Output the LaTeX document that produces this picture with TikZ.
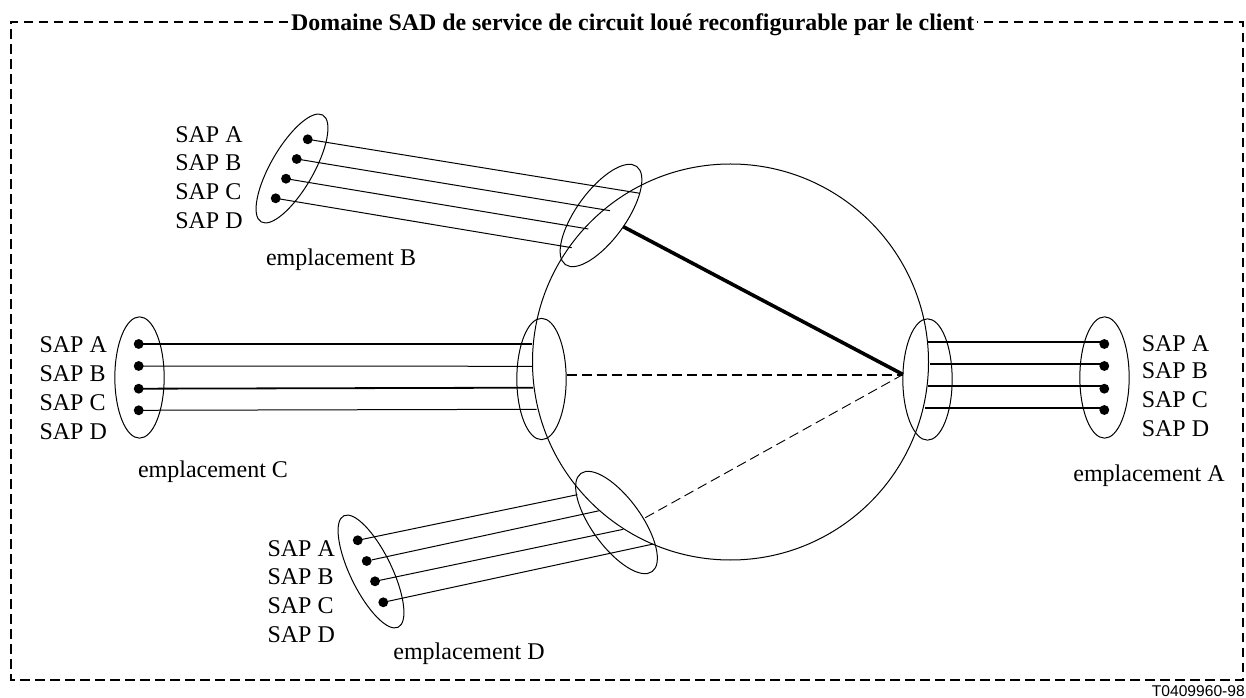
\documentclass[tikz,border=0pt]{standalone}
\usepackage{fontspec}
\setmainfont{Liberation Serif}
\newfontfamily\arialfont{Liberation Sans}
\usetikzlibrary{calc,shapes.geometric}
\tikzset{
  x=0.75pt,y=-0.75pt,
  txt/.style={inner sep=0pt,anchor=base,yshift=-0.9pt,font=\fontsize{18}{20}\selectfont},
  sap/.style={txt,anchor=base west,align=left},
  ell/.style={draw,ellipse,inner sep=0pt,minimum width=37pt,minimum height=91pt,line width=0.75pt},
  dot/.style={circle,fill=black,inner sep=0pt,minimum size=7.4pt},
  thinl/.style={line width=0.75pt},
  thickl/.style={line width=1.35pt},
  framedash/.style={line width=1.45pt,dash pattern=on 7pt off 4.25pt},
}
\begin{document}
\begin{tikzpicture}
\useasboundingbox (0,0) rectangle (1246,698);
% frame
\node[inner xsep=2pt,inner ysep=0pt,anchor=base,font=\bfseries\fontsize{17.9}{20}\selectfont] (title) at (632.8,30.8) {Domaine SAD de service de circuit loué reconfigurable par le client};
\coordinate (tl) at (11,21.7);
\coordinate (tr) at (1242.7,21.7);
\coordinate (bl) at (11,680);
\coordinate (br) at (1242.7,680);
\draw[framedash] (title.west |- tl) -- (tl) -- (bl) -- (br) -- (tr) -- (title.east |- tr);
% main circle
\node[draw,circle,inner sep=0pt,minimum size=297pt,line width=0.75pt] (ring) at (730.5,362) {};
% ellipses
\node[ell,rotate=-30,minimum width=32pt,minimum height=92.5pt] (bl1) at (292,168.5) {};
\node[ell,rotate=-36] (br1) at (601,215.5) {};
\node[ell] (cl1) at (139.5,377.5) {};
\node[ell] (cr1) at (541.5,379) {};
\node[ell] (al1) at (927.5,379.5) {};
\node[ell] (ar1) at (1104.5,377.5) {};
\node[ell,rotate=36] (dr1) at (616.5,522.5) {};
\node[ell,rotate=26,minimum width=31pt,minimum height=93pt] (dl1) at (371,571.5) {};
% dots
\foreach \n/\x/\y in {ba/307.7/139.3,bb/296.7/159,bc/286/178.7,bd/275.7/198.3,
  ca/138.7/344,cb/138.7/366,cc/138.7/388.7,cd/138.7/410.3,
  aa/1104.3/344,ab/1104.3/366,ac/1104.3/388.7,ad/1104.3/410,
  da/357.7/540.3,db/366.7/561,dc/375/581.3,dd/383.3/602.3}
  \node[dot] (\n) at (\x,\y) {};
% connector ends
\foreach \n/\x/\y in {eba/640/193.3,ebb/610/210.7,ebc/588.3/229,ebd/571.7/247.7,
  eca/532/344,ecb/532/366.3,ecc/533/387.7,ecd/536.7/409.3,
  eaa/928.3/342,eab/930/363.7,eac/928.3/385.7,ead/925/407.7,
  eda/577.3/494.7,edb/599.3/510.7,edc/623.3/529.3,edd/653.3/544,
  hub/903/374.5,thickstart/623.3/226.7,dashc/566.5/375,dashd/645.3/517.7}
  \coordinate (\n) at (\x,\y);
\draw[thinl] (ba.center) -- (eba);
\draw[thinl] (bb.center) -- (ebb);
\draw[thinl] (bc.center) -- (ebc);
\draw[thinl] (bd.center) -- (ebd);
\draw[thickl] (ca.center) -- (eca);
\draw[thinl] (cb.center) -- (ecb);
\draw[thickl] (cc.center) -- (ecc);
\draw[thinl] (cd.center) -- (ecd);
\draw[thickl] (eaa) -- (eaa -| aa.center);
\draw[thickl] (eab) -- (eab -| ab.center);
\draw[thickl] (eac) -- (eac -| ac.center);
\draw[thickl] (ead) -- (ead -| ad.center);
\draw[thinl] (da.center) -- (eda);
\draw[thinl] (db) -- (edb);
\draw[thinl] (dc.center) -- (edc);
\draw[thinl] (dd.center) -- (edd);
\draw[line width=2.7pt] (thickstart) -- (hub);
\draw[line width=1.3pt,dash pattern=on 7.5pt off 3.75pt] (dashc) -- (hub |- dashc);
\draw[line width=0.7pt,dash pattern=on 7.5pt off 3.75pt] (dashd) -- (hub);
% labels
\node[sap] (lba) at (175,141.7) {SAP A};
\node[sap] (lbb) at (175,169) {SAP B};
\node[sap] (lbc) at (175,198) {SAP C};
\node[sap] (lbd) at (175,227) {SAP D};
\node[txt] (lbe) at (341,264) {emplacement B};
\node[sap] (lca) at (39.3,351.7) {SAP A};
\node[sap] (lcb) at (39.3,380.7) {SAP B};
\node[sap] (lcc) at (39.3,409.3) {SAP C};
\node[sap] (lcd) at (39.3,438.3) {SAP D};
\node[txt] (lce) at (213,476.7) {emplacement C};
\node[sap] (laa) at (1141.5,350) {SAP A};
\node[sap] (lab) at (1141.5,377.3) {SAP B};
\node[sap] (lac) at (1141.5,406.7) {SAP C};
\node[sap] (lad) at (1141.5,435) {SAP D};
\node[txt] (lae) at (1149,480) {emplacement A};
\node[sap] (lda) at (267.3,555) {SAP A};
\node[sap] (ldb) at (267.3,583.3) {SAP B};
\node[sap] (ldc) at (267.3,612.7) {SAP C};
\node[sap] (ldd) at (267.3,641.7) {SAP D};
\node[txt] (lde) at (469,658.3) {emplacement D};
\node[inner sep=0pt,anchor=base east,font=\arialfont\fontsize{11.7}{13}\selectfont] (ref) at (1245,696) {T0409960-98};
\end{tikzpicture}
\end{document}
